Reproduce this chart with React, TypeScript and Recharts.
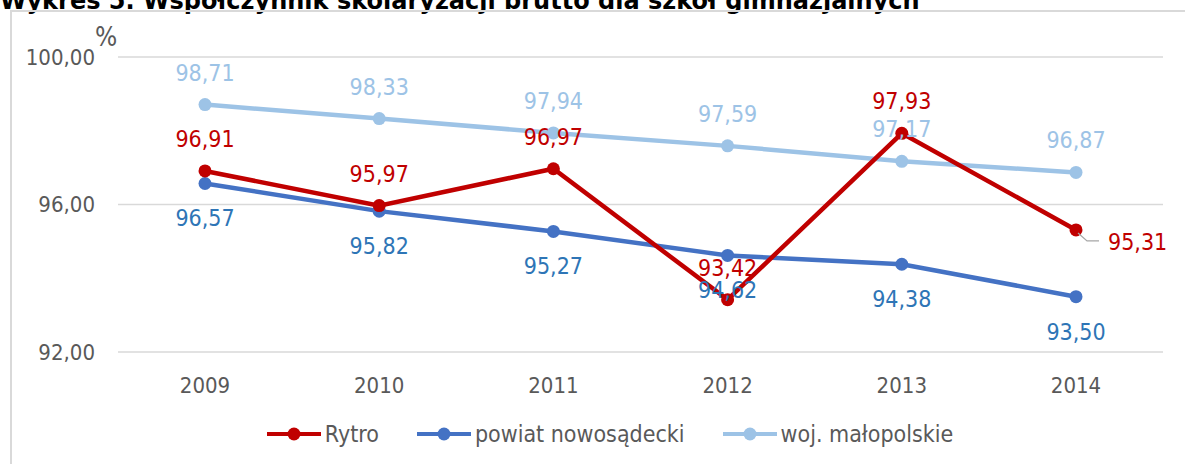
import React from 'react';
import { LineChart, Line, XAxis, YAxis, CartesianGrid, LabelList } from 'recharts';

const years = ['2009', '2010', '2011', '2012', '2013', '2014'];
const rytro = [96.91, 95.97, 96.97, 93.42, 97.93, 95.31];
const powiat = [96.57, 95.82, 95.27, 94.62, 94.38, 93.5];
const woj = [98.71, 98.33, 97.94, 97.59, 97.17, 96.87];
const yTicks = [92, 96, 100];

const FONT = "'DejaVu Sans Condensed', 'DejaVu Sans', sans-serif";
const RED = '#C00000';
const BLUE = '#4472C4';
const LIGHT = '#9DC3E6';

const data = years.map((year, i) => ({ year, rytro: rytro[i], powiat: powiat[i], woj: woj[i] }));

const fmt = (v: number) => v.toFixed(2).replace('.', ',');

const makeLabel = (color: string, dy: number, special?: boolean) => (props: any) => {
  const { x, y, value, index } = props;
  if (special && index === years.length - 1) {
    return (
      <g>
        <polyline
          points={`${x + 2},${y + 3} ${x + 11},${y + 11} ${x + 23},${y + 11}`}
          fill="none"
          stroke="#a6a6a6"
          strokeWidth={1.2}
        />
        <text x={x + 32} y={y + 12} fill={color} fontSize={23} fontFamily={FONT} dominantBaseline="central">
          {fmt(value)}
        </text>
      </g>
    );
  }
  return (
    <text x={x} y={y + dy} fill={color} fontSize={23} fontFamily={FONT} textAnchor="middle" dominantBaseline="central">
      {fmt(value)}
    </text>
  );
};

const legendItems = [
  { name: 'Rytro', color: RED },
  { name: 'powiat nowosądecki', color: BLUE },
  { name: 'woj. małopolskie', color: LIGHT },
];

export default function App() {
  return (
    <div style={{ position: 'absolute', left: 0, top: 0, width: 1185, height: 464, overflow: 'hidden', background: '#fff' }}>
      <div
        style={{
          position: 'absolute',
          left: 0,
          top: -13,
          fontFamily: "'DejaVu Sans', sans-serif",
          fontWeight: 'bold',
          fontSize: 24,
          whiteSpace: 'nowrap',
          color: '#000',
        }}
      >
        Wykres 5. Współczynnik skolaryzacji brutto dla szkół gimnazjalnych
      </div>
      <div
        style={{
          position: 'absolute',
          left: 10,
          top: 10,
          width: 1200,
          height: 500,
          border: '2px solid #d9d9d9',
          boxSizing: 'border-box',
          background: 'transparent',
        }}
      />
      <div style={{ position: 'absolute', left: 0, top: 0 }}>
        <LineChart width={1185} height={464} data={data} margin={{ top: 57, right: 22, left: 0, bottom: 82 }}>
          <CartesianGrid vertical={false} stroke="#d9d9d9" strokeWidth={1.5} />
          <XAxis
            dataKey="year"
            axisLine={false}
            tickLine={false}
            tickMargin={19}
            padding={{ left: 87, right: 87 }}
            tick={{ fill: '#595959', fontSize: 22, fontFamily: FONT }}
          />
          <YAxis
            width={118}
            domain={[92, 100]}
            ticks={yTicks}
            axisLine={false}
            tickLine={false}
            tickMargin={17}
            tickFormatter={fmt}
            tick={{ fill: '#595959', fontSize: 22, fontFamily: FONT }}
            label={(props: any) => {
              const vb = props.viewBox || { x: 0, y: 57, width: 118 };
              return (
                <text x={vb.x + vb.width - 12} y={vb.y - 20} fill="#595959" fontSize={26} fontFamily={FONT} textAnchor="middle" dominantBaseline="central">
                  %
                </text>
              );
            }}
          />
          <Line dataKey="woj" stroke={LIGHT} strokeWidth={4.5} dot={{ r: 6.5, fill: LIGHT, stroke: LIGHT, strokeWidth: 0 }} isAnimationActive={false}>
            <LabelList dataKey="woj" content={makeLabel(LIGHT, -32)} />
          </Line>
          <Line dataKey="powiat" stroke={BLUE} strokeWidth={4.5} dot={{ r: 6.5, fill: BLUE, stroke: BLUE, strokeWidth: 0 }} isAnimationActive={false}>
            <LabelList dataKey="powiat" content={makeLabel('#2E75B6', 35)} />
          </Line>
          <Line dataKey="rytro" stroke={RED} strokeWidth={4.5} dot={{ r: 6.5, fill: RED, stroke: RED, strokeWidth: 0 }} isAnimationActive={false}>
            <LabelList dataKey="rytro" content={makeLabel(RED, -32, true)} />
          </Line>
        </LineChart>
      </div>
      <div
        style={{
          position: 'absolute',
          left: 0,
          top: 421,
          width: 1220,
          display: 'flex',
          justifyContent: 'center',
          gap: 38,
          fontFamily: FONT,
          fontSize: 23,
          color: '#595959',
        }}
      >
        {legendItems.map((item) => (
          <div key={item.name} style={{ display: 'flex', alignItems: 'center' }}>
            <svg width={54} height={16} style={{ marginRight: 4 }}>
              <line x1={0} y1={8} x2={54} y2={8} stroke={item.color} strokeWidth={4} />
              <circle cx={27} cy={8} r={6.5} fill={item.color} />
            </svg>
            <span>{item.name}</span>
          </div>
        ))}
      </div>
    </div>
  );
}
